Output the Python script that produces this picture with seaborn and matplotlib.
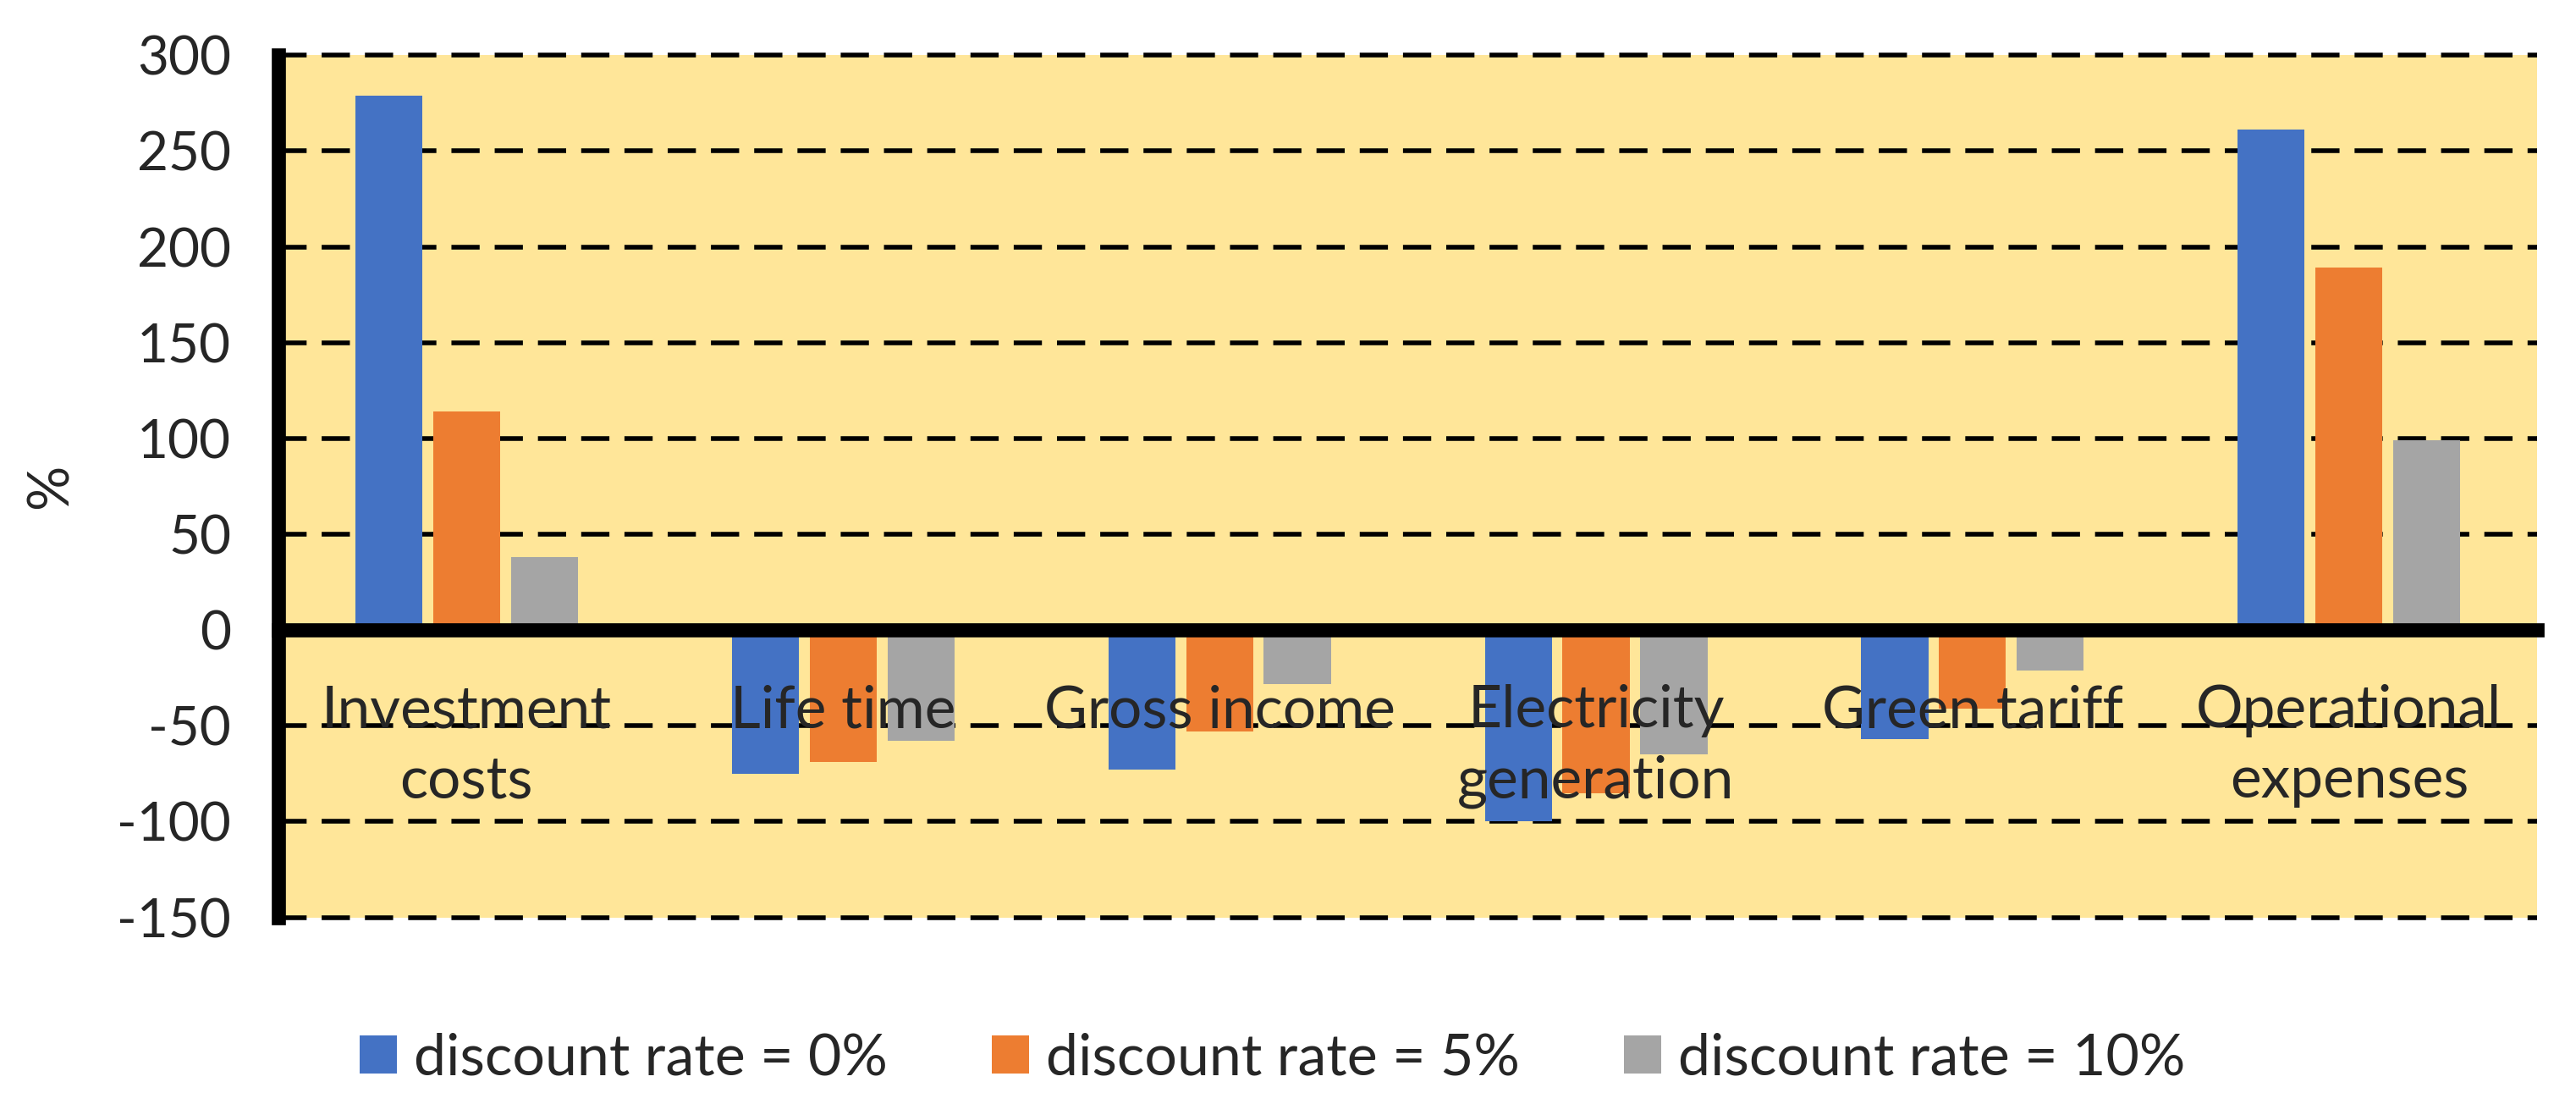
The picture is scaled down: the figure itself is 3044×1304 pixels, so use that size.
import pandas as pd
import matplotlib.pyplot as plt
import seaborn as sns

# ===== DATA =====
categories = ['Investment\ncosts', 'Life time', 'Gross income',
              'Electricity\ngeneration', 'Green tariff', 'Operational\nexpenses']
rate_0 = [279, -75, -73, -100, -57, 261]
rate_5 = [114, -69, -53, -85, -41, 189]
rate_10 = [38, -58, -28, -65, -21, 99]
series_names = ['discount rate = 0%', 'discount rate = 5%', 'discount rate = 10%']
y_ticks = [-150, -100, -50, 0, 50, 100, 150, 200, 250, 300]

colors = ['#4472C4', '#ED7D31', '#A5A5A5']

df = pd.DataFrame({
    'category': categories * 3,
    'value': rate_0 + rate_5 + rate_10,
    'rate': [s for s in series_names for _ in categories],
})

# ===== PLOT =====
sns.set_style('white')
plt.rcParams['font.family'] = ['Lato', 'DejaVu Sans']

fig = plt.figure(figsize=(30.44, 13.04), dpi=100)
ax = fig.add_axes([0.108, 0.169, 0.877, 0.781])
ax.set_facecolor('#FFE699')

sns.barplot(data=df, x='category', y='value', hue='rate', hue_order=series_names,
            palette=colors, saturation=1, width=0.62, gap=0.14, linewidth=0,
            ax=ax)

ax.set_ylim(-150, 300)
ax.set_yticks(y_ticks)
ax.set_yticklabels([str(t) for t in y_ticks], fontsize=46)
ax.yaxis.grid(True, color='black', linewidth=4, linestyle=(0, (6, 3.2)))
for gl in ax.get_ygridlines():
    gl.set_clip_on(False)
ax.set_axisbelow(True)
ax.xaxis.set_zorder(3)

# spines: thick left, bottom moved to zero
for side in ['top', 'right']:
    ax.spines[side].set_visible(False)
ax.spines['left'].set_linewidth(12)
ax.spines['bottom'].set_linewidth(12)
ax.spines['bottom'].set_position(('data', 0))
ax.spines['left'].set_color('black')
ax.spines['bottom'].set_color('black')

ax.tick_params(axis='x', length=0, pad=46, labelsize=50)
ax.tick_params(axis='y', length=0, pad=40)
for lbl in ax.get_xticklabels():
    lbl.set_linespacing(1.4)

ax.set_xlabel('')
ax.set_ylabel('%', fontsize=48, labelpad=34)

handles, labels = ax.get_legend_handles_labels()
ax.get_legend().remove()
fig.legend(handles, labels, loc='center', bbox_to_anchor=(0.494, 0.041), ncol=3,
           frameon=False, fontsize=49, handlelength=0.65, handleheight=0.65,
           handletextpad=0.3, columnspacing=1.8)

plt.savefig('out.png', dpi=100)
plt.close()
